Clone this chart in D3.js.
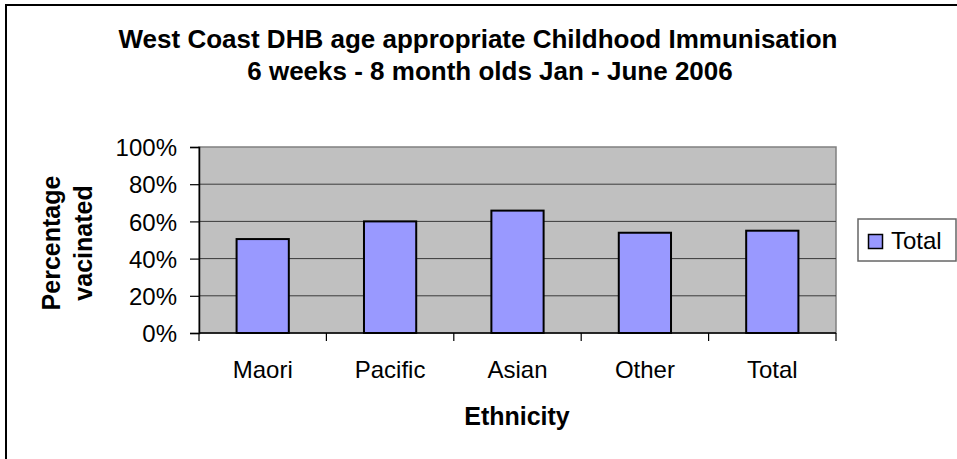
<!DOCTYPE html>
<html><head><meta charset="utf-8">
<script src="https://cdn.jsdelivr.net/npm/d3@7/dist/d3.min.js"></script>
<style>body{margin:0;background:#fff}svg{display:block}text{font-family:"Liberation Sans",Arial,sans-serif}</style>
</head><body><svg id="c" width="957" height="459"></svg>
<script>
const categories = ["Maori","Pacific","Asian","Other","Total"];
const values = [50.5, 60.0, 65.8, 53.9, 55.0];
const yTicks = [0,20,40,60,80,100];
const seriesName = "Total";
const titleLines = ["West Coast DHB age appropriate Childhood Immunisation","6 weeks - 8 month olds Jan - June 2006"];

const svg = d3.select("#c");
// outer border
svg.append("rect").attr("x",6).attr("y",5).attr("width",1000).attr("height",500)
  .attr("fill","#fff").attr("stroke","#000").attr("stroke-width",2);

const L=199, R=836, T=147, B=333;
const x = d3.scaleBand().domain(categories).range([L,R]).paddingInner(0.59).paddingOuter(0.295);
const xb = d3.scaleBand().domain(categories).range([L,R]);
const y = d3.scaleLinear().domain([0,100]).range([B,T]);

svg.append("rect").attr("x",L).attr("y",T).attr("width",R-L).attr("height",B-T)
  .attr("fill","#c0c0c0").attr("stroke","#808080").attr("stroke-width",1.5);

svg.append("g").selectAll("line").data(yTicks.filter(d=>d>0&&d<100)).join("line")
  .attr("x1",L).attr("x2",R).attr("y1",d=>y(d)).attr("y2",d=>y(d))
  .attr("stroke","#3a3a3a").attr("stroke-width",1);

svg.append("g").selectAll("rect").data(values).join("rect")
  .attr("x",(d,i)=>x(categories[i])).attr("width",x.bandwidth())
  .attr("y",d=>y(d)).attr("height",d=>B-y(d))
  .attr("fill","#9999ff").attr("stroke","#000").attr("stroke-width",2);

// y axis
const ya = svg.append("g").attr("transform",`translate(${L},0)`)
  .call(d3.axisLeft(y).tickValues(yTicks).tickFormat(d=>d+"%").tickSize(9).tickPadding(13));
ya.select(".domain").attr("stroke","#000").attr("stroke-width",1.5);
ya.selectAll(".tick line").attr("stroke","#000").attr("stroke-width",1.2);
ya.selectAll("text").attr("font-size",24).attr("fill","#000").attr("font-family","Liberation Sans, Arial, sans-serif").attr("dy","0.36em");

// x axis
const xa = svg.append("g").attr("transform",`translate(0,${B})`)
  .call(d3.axisBottom(xb).tickSize(0).tickPadding(0));
xa.select(".domain").remove();
xa.append("line").attr("x1",L).attr("x2",R).attr("stroke","#000").attr("stroke-width",1.5);
xa.selectAll(".tickmark").data(d3.range(categories.length+1)).join("line")
  .attr("x1",i=>L+i*xb.step()).attr("x2",i=>L+i*xb.step()).attr("y1",0).attr("y2",8)
  .attr("stroke","#000").attr("stroke-width",1.2);
xa.selectAll(".tick text").attr("font-size",24).attr("fill","#000").attr("y",45).attr("dy",0)
  .attr("font-family","Liberation Sans, Arial, sans-serif");

// titles
svg.append("g").selectAll("text").data(titleLines).join("text")
  .attr("x",(d,i)=>i===0?478:490).attr("y",(d,i)=>48+i*32).attr("text-anchor","middle")
  .attr("font-size",26).attr("font-weight","bold").text(d=>d);

svg.append("text").attr("x",517).attr("y",425).attr("text-anchor","middle")
  .attr("font-size",25).attr("font-weight","bold").text("Ethnicity");

const yt = svg.append("text").attr("transform","translate(0,243) rotate(-90)")
  .attr("text-anchor","middle").attr("font-size",25).attr("font-weight","bold");
yt.append("tspan").attr("x",0).attr("y",60).text("Percentage");
yt.append("tspan").attr("x",0).attr("y",92).text("vacinated");

// legend
const lg = svg.append("g");
lg.append("rect").attr("x",858).attr("y",219).attr("width",98).attr("height",42)
  .attr("fill","#fff").attr("stroke","#666").attr("stroke-width",1.5);
lg.append("rect").attr("x",868.5).attr("y",234.5).attr("width",14).attr("height",14)
  .attr("fill","#9999ff").attr("stroke","#000").attr("stroke-width",1.5);
lg.append("text").attr("x",891).attr("y",249).attr("font-size",24).text(seriesName);
</script></body></html>
